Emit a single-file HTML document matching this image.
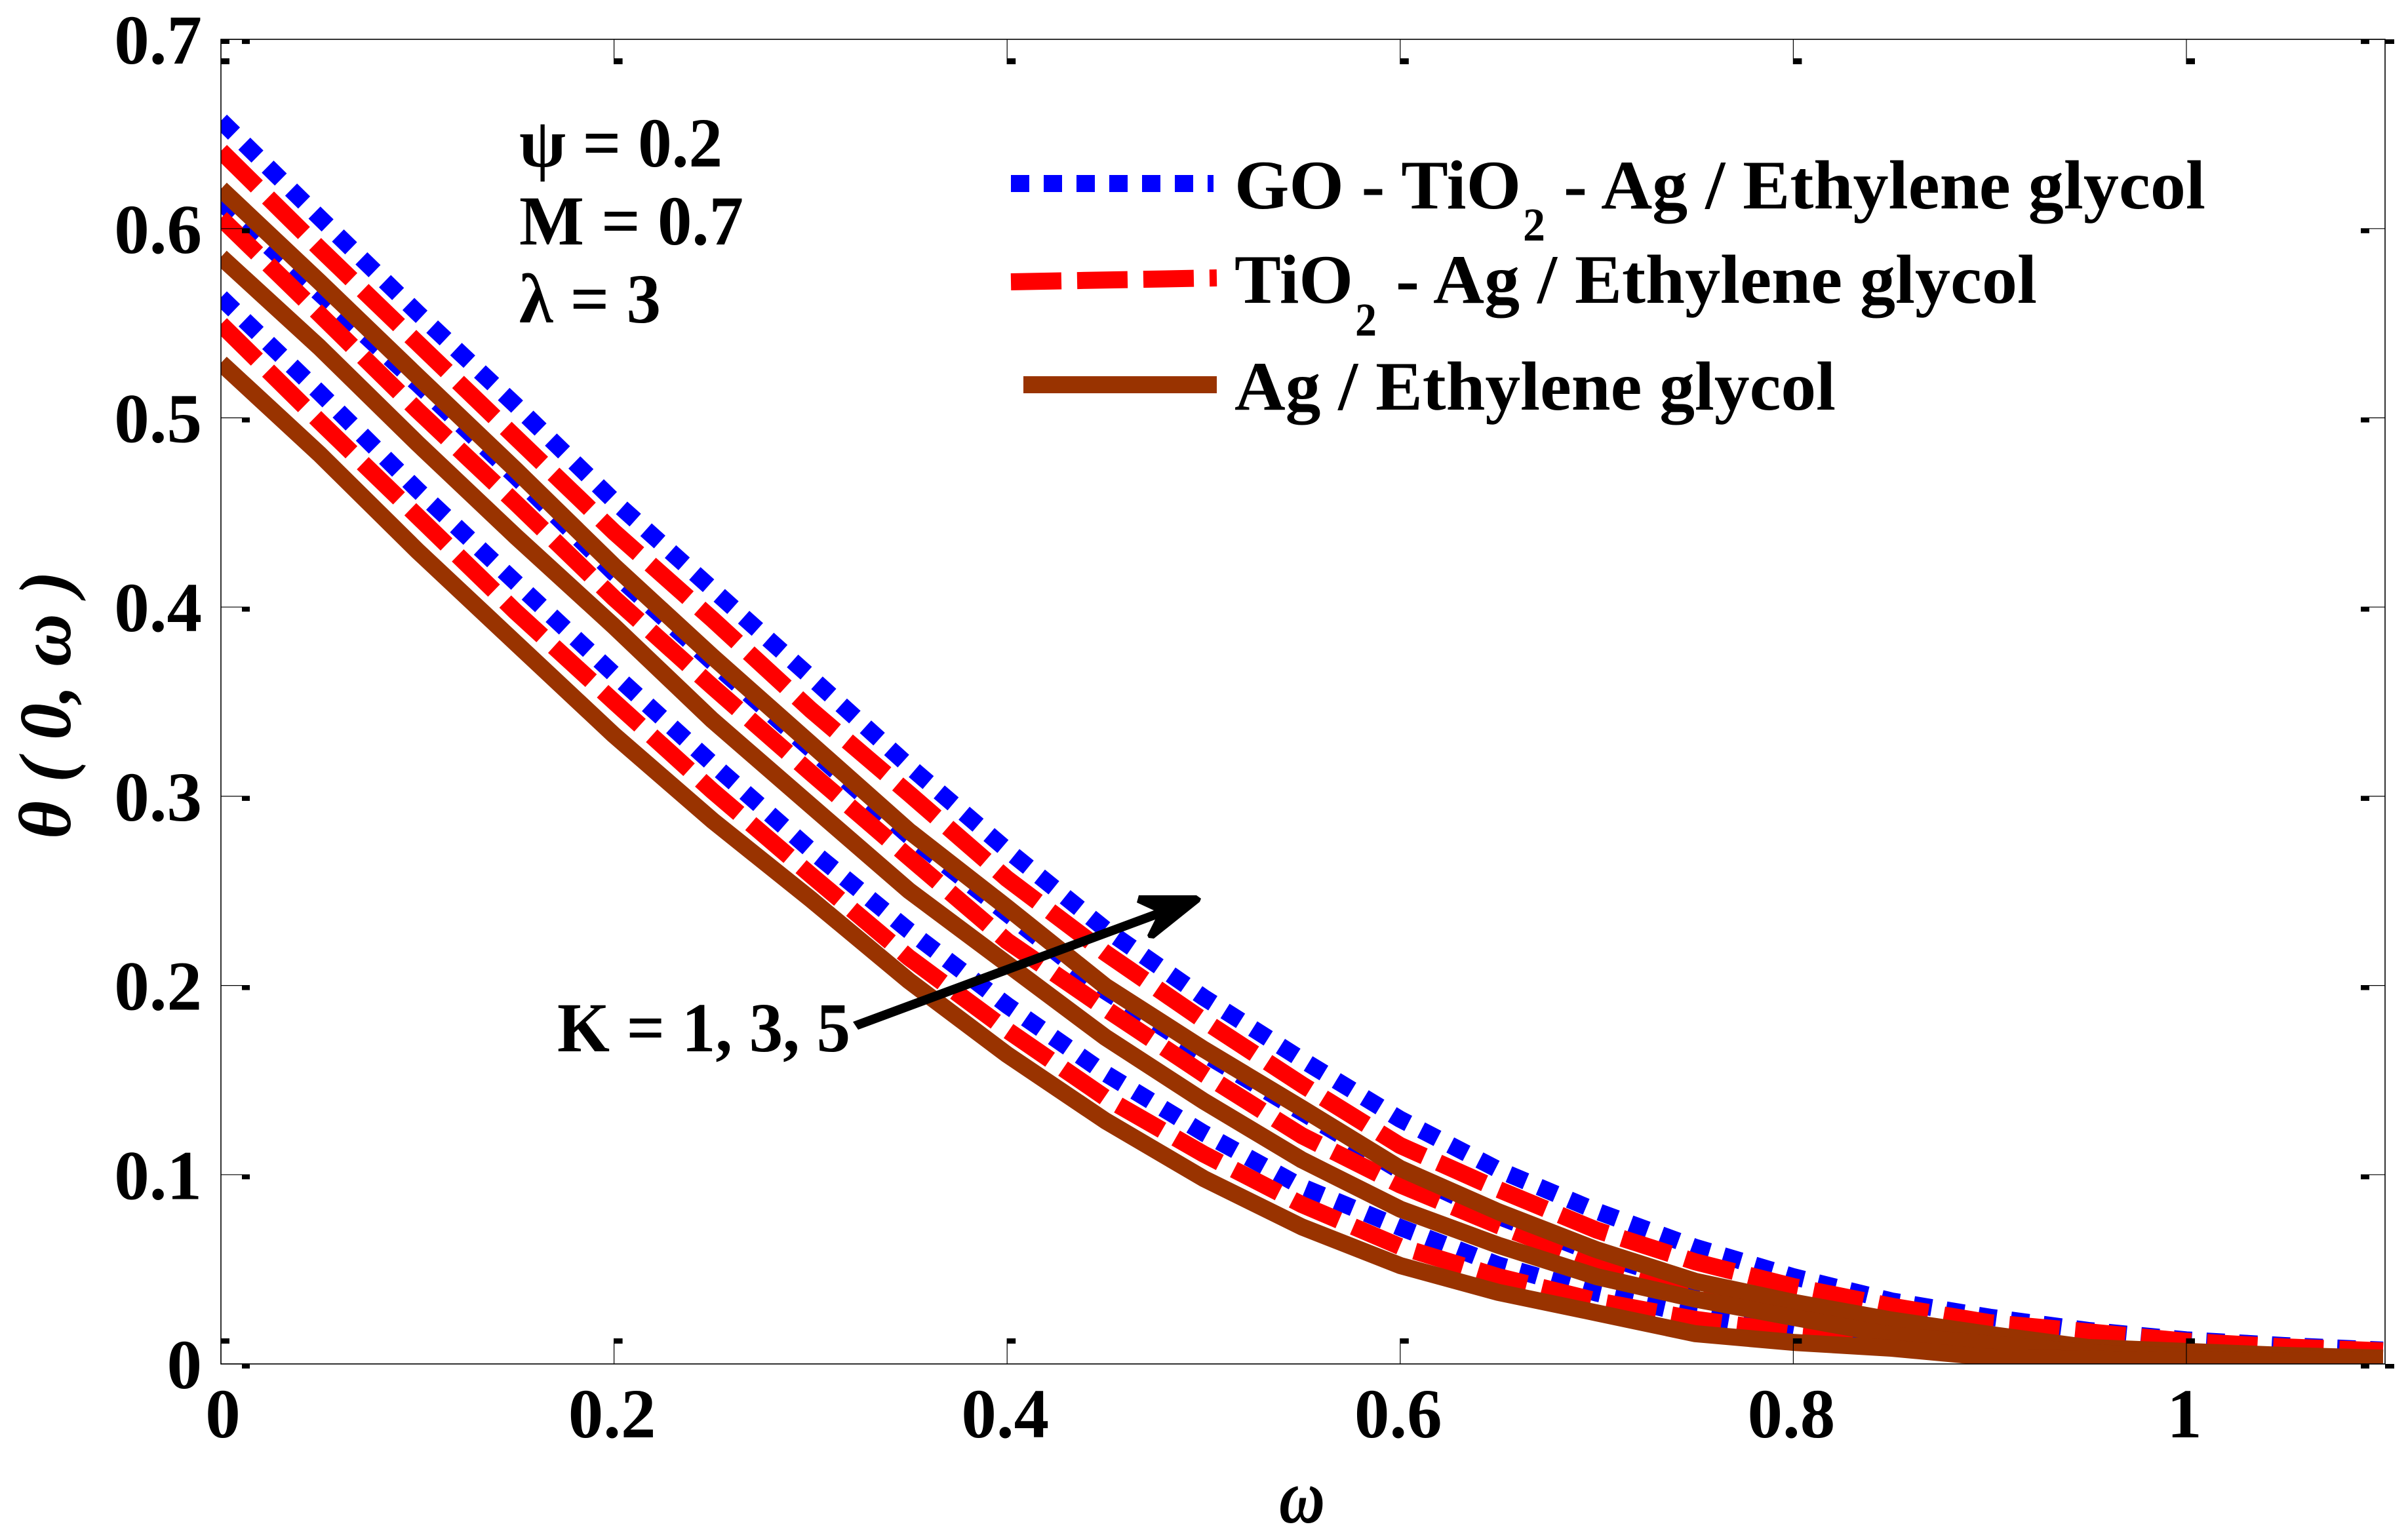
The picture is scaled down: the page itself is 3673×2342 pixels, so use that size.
<!DOCTYPE html>
<html lang="en">
<head>
<meta charset="utf-8">
<title>Temperature profile chart</title>
<style>
html,body{margin:0;padding:0;background:#fff;width:3673px;height:2342px;overflow:hidden}
svg{display:block}
text{font-family:"Liberation Serif","DejaVu Serif",serif;font-weight:bold;fill:#000}
.curve{fill:none;stroke-linejoin:round;stroke-linecap:butt;stroke-width:26}
.blue{stroke:#0000ff;stroke-dasharray:28 22}
.red{stroke:#ff0000;stroke-dasharray:77 24}
.brown{stroke:#993300}
</style>
</head>
<body>
<svg id="chart" xmlns="http://www.w3.org/2000/svg" width="3673" height="2342" viewBox="0 0 3673 2342">
  <rect x="0" y="0" width="3673" height="2342" fill="#fff"/>
  <defs><clipPath id="plotClip"><rect x="337" y="60" width="1" height="1" id="plotClipRect"/></clipPath></defs>

  <g id="curves" clip-path="url(#plotClip)">
    <path id="b5" class="curve blue"/>
    <path id="b3" class="curve blue"/>
    <path id="b1" class="curve blue"/>
    <path id="r5" class="curve red"/>
    <path id="r3" class="curve red"/>
    <path id="r1" class="curve red"/>
    <path id="k5" class="curve brown"/>
    <path id="k3" class="curve brown"/>
    <path id="k1" class="curve brown"/>
  </g>

  <rect id="frame" fill="none" stroke="#000" stroke-width="1.6"/>
  <g id="ticks"></g>
  <g id="tickLabels"></g>

  <text x="107" y="1280" font-size="112" transform="rotate(-90 107 1280)" textLength="409" lengthAdjust="spacingAndGlyphs" style="font-style:italic">θ ( 0, ω )</text>
  <text x="1951" y="2323" font-size="118" textLength="70" lengthAdjust="spacingAndGlyphs" style="font-style:italic">ω</text>

  <g>
    <text x="792" y="254" font-size="107" textLength="310" lengthAdjust="spacingAndGlyphs">ψ = 0.2</text>
    <text x="792" y="373" font-size="107" textLength="342" lengthAdjust="spacingAndGlyphs">M = 0.7</text>
    <text x="792" y="492" font-size="107" textLength="216" lengthAdjust="spacingAndGlyphs">λ = 3</text>
  </g>

  <g>
    <g>
      <path d="M1542 280H1851" fill="none" stroke="#0000ff" stroke-width="26" stroke-dasharray="28 22"/>
      <text x="1883" y="318" font-size="106" textLength="437" lengthAdjust="spacingAndGlyphs">GO - TiO</text>
      <text x="2323" y="367" font-size="72" textLength="34" lengthAdjust="spacingAndGlyphs">2</text>
      <text x="2385" y="318" font-size="106" textLength="979" lengthAdjust="spacingAndGlyphs">- Ag / Ethylene glycol</text>
    </g>
    <g>
      <path d="M1542 430L1856 424" fill="none" stroke="#ff0000" stroke-width="26" stroke-dasharray="77 24"/>
      <text x="1883" y="462" font-size="106" textLength="181" lengthAdjust="spacingAndGlyphs">TiO</text>
      <text x="2067" y="512" font-size="72" textLength="33" lengthAdjust="spacingAndGlyphs">2</text>
      <text x="2129" y="462" font-size="106" textLength="978" lengthAdjust="spacingAndGlyphs">- Ag / Ethylene glycol</text>
    </g>
    <g>
      <path d="M1561 587H1856" fill="none" stroke="#993300" stroke-width="26"/>
      <text x="1883" y="625" font-size="106" textLength="917" lengthAdjust="spacingAndGlyphs">Ag / Ethylene glycol</text>
    </g>
  </g>

  <g>
    <text x="850" y="1604" font-size="107" textLength="447" lengthAdjust="spacingAndGlyphs">K = 1, 3, 5</text>
    <polygon points="1301,1559 1760,1389 1734,1377 1737,1366 1825,1366 1832,1371 1830,1376 1760,1432 1752,1431 1750,1427 1762,1403 1309,1571" fill="#000"/>
  </g>
</svg>

<script>
const omega = [0,0.05,0.1,0.15,0.2,0.25,0.3,0.35,0.4,0.45,0.5,0.55,0.6,0.65,0.7,0.75,0.8,0.85,0.9,0.95,1,1.05,1.1];
const blueK5 = [0.657,0.606,0.5555,0.5066,0.456,0.4095,0.363,0.316,0.2716,0.2297,0.1937,0.1608,0.1293,0.1026,0.0807,0.0617,0.0461,0.0333,0.0247,0.0177,0.0127,0.0097,0.0073];
const blueK3 = [0.614,0.566,0.518,0.469,0.418,0.371,0.325,0.279,0.238,0.197,0.164,0.133,0.102,0.078,0.058,0.042,0.031,0.022,0.015,0.0085,0.0063,0.0043,0.003];
const blueK1 = [0.5636,0.5135,0.4619,0.413,0.3645,0.3172,0.2716,0.229,0.1895,0.1535,0.122,0.0936,0.0721,0.0523,0.0374,0.0256,0.0166,0.0097,0.0065,0.004,0.003,0.002,0.0015];
const redK5 = [0.641,0.5897,0.5396,0.4896,0.4397,0.3936,0.3458,0.3015,0.2564,0.2172,0.1815,0.1476,0.1154,0.0922,0.0707,0.054,0.0409,0.0305,0.0218,0.017,0.012,0.009,0.0069];
const redK3 = [0.6055,0.555,0.504,0.455,0.4047,0.358,0.3125,0.2678,0.2235,0.1878,0.1532,0.1206,0.0946,0.0731,0.0534,0.0385,0.0274,0.0184,0.013,0.009,0.006,0.004,0.003];
const redK1 = [0.5495,0.4983,0.448,0.3975,0.35,0.3029,0.2585,0.2148,0.1764,0.1407,0.1109,0.0842,0.062,0.0461,0.0333,0.0236,0.0166,0.0114,0.006,0.004,0.003,0.002,0.001];
const brownK5 = [0.621,0.572,0.522,0.4725,0.4217,0.3739,0.3278,0.2817,0.2412,0.1996,0.1663,0.1351,0.1033,0.0804,0.0603,0.0437,0.0326,0.0232,0.0156,0.0087,0.0066,0.0045,0.0031];
const brownK3 = [0.585,0.5374,0.4865,0.4373,0.3898,0.3403,0.2952,0.2502,0.2114,0.1726,0.1389,0.1078,0.0818,0.0627,0.0461,0.0343,0.0246,0.0152,0.0105,0.006,0.004,0.003,0.002];
const brownK1 = [0.529,0.481,0.4297,0.381,0.3323,0.2873,0.2457,0.2025,0.1635,0.1285,0.098,0.0724,0.052,0.0378,0.027,0.016,0.0114,0.0083,0.0035,0.0025,0.002,0.0015,0.001];
const xTicks = [0,0.2,0.4,0.6,0.8,1];
const xTickLabels = ["0","0.2","0.4","0.6","0.8","1"];
const yTicks = [0,0.1,0.2,0.3,0.4,0.5,0.6,0.7];
const yTickLabels = ["0","0.1","0.2","0.3","0.4","0.5","0.6","0.7"];

const NS = "http://www.w3.org/2000/svg";
const plotLeft = 337, plotRight = 3638, plotTop = 60, plotBottom = 2081;
const xPerUnit = 2998, yPerUnit = 2887;
function xScale(v){ return plotLeft + v * xPerUnit; }
function yScale(v){ return plotBottom - v * yPerUnit; }
function linePath(values){
  return values.map(function(v,i){ return (i ? "L" : "M") + xScale(omega[i]).toFixed(1) + " " + yScale(v).toFixed(1); }).join("");
}

var clipRect = document.getElementById("plotClipRect");
clipRect.setAttribute("x", plotLeft);
clipRect.setAttribute("y", plotTop);
clipRect.setAttribute("width", plotRight - plotLeft);
clipRect.setAttribute("height", plotBottom - plotTop);
var frame = document.getElementById("frame");
frame.setAttribute("x", plotLeft);
frame.setAttribute("y", plotTop);
frame.setAttribute("width", plotRight - plotLeft);
frame.setAttribute("height", plotBottom - plotTop);

document.getElementById("b5").setAttribute("d", linePath(blueK5));
document.getElementById("b3").setAttribute("d", linePath(blueK3));
document.getElementById("b1").setAttribute("d", linePath(blueK1));
document.getElementById("r5").setAttribute("d", linePath(redK5));
document.getElementById("r3").setAttribute("d", linePath(redK3));
document.getElementById("r1").setAttribute("d", linePath(redK1));
document.getElementById("k5").setAttribute("d", linePath(brownK5));
document.getElementById("k3").setAttribute("d", linePath(brownK3));
document.getElementById("k1").setAttribute("d", linePath(brownK1));

var ticksGroup = document.getElementById("ticks");
var labelsGroup = document.getElementById("tickLabels");

function addLine(x1,y1,x2,y2){
  var el = document.createElementNS(NS,"line");
  
  
  el.setAttribute("x1",x1); el.setAttribute("y1",y1);
  el.setAttribute("x2",x2); el.setAttribute("y2",y2);
  el.setAttribute("stroke","#000"); el.setAttribute("stroke-width","1.2");
  ticksGroup.appendChild(el);
}
function addSquare(x,y,w,h){
  var el = document.createElementNS(NS,"rect");
  
  
  el.setAttribute("x",x); el.setAttribute("y",y);
  el.setAttribute("width",w); el.setAttribute("height",h);
  el.setAttribute("fill","#000");
  ticksGroup.appendChild(el);
}

xTicks.forEach(function(v,i){
  var x = xScale(v);
  addLine(x,plotBottom,x,plotBottom-39);
  addSquare(x,plotBottom-39,13,8);
  addLine(x,plotTop,x,plotTop+38);
  addSquare(x,plotTop+29,13,9);
  var t = document.createElementNS(NS,"text");
  
  
  t.setAttribute("x",x + (i === 0 ? 3 : -3));
  t.setAttribute("y",2193);
  t.setAttribute("font-size","107");
  t.setAttribute("text-anchor","middle");
  t.textContent = xTickLabels[i];
  labelsGroup.appendChild(t);
});

yTicks.forEach(function(v,i){
  var y = yScale(v);
  addLine(plotLeft,y,plotLeft+44,y);
  addSquare(plotLeft+32,y,12,7);
  addLine(plotRight,y,plotRight-37,y);
  addSquare(plotRight-37,y,13,7);
  var t = document.createElementNS(NS,"text");
  
  
  t.setAttribute("x",308);
  t.setAttribute("y",y+37);
  t.setAttribute("font-size","107");
  t.setAttribute("text-anchor","end");
  t.textContent = yTickLabels[i];
  labelsGroup.appendChild(t);
});

addSquare(plotLeft,plotTop,13,7);
addSquare(plotRight,plotTop,14,7);
addSquare(plotRight,plotBottom,14,7);
</script>
</body>
</html>
